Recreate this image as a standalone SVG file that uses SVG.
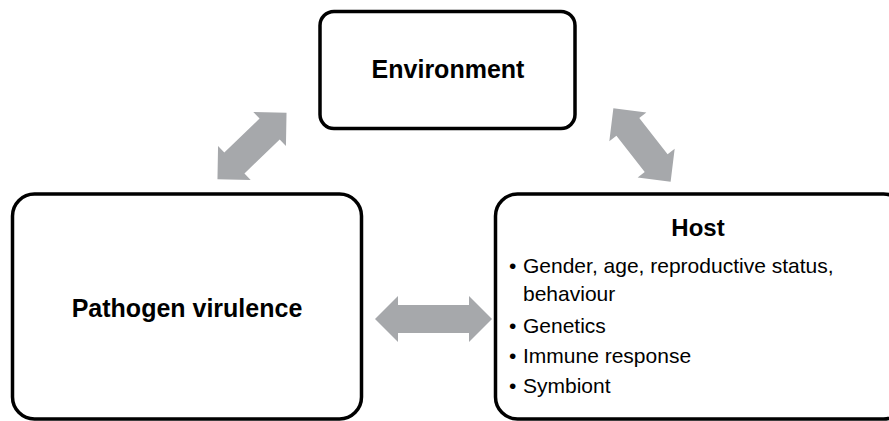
<svg xmlns="http://www.w3.org/2000/svg" width="889" height="421" viewBox="0 0 889 421">
  <style>
    .box { fill: #ffffff; stroke: #000000; stroke-width: 3.5; }
    .arrow { fill: #A6A8AB; stroke: none; }
    .title { font-family: "Liberation Sans", Arial, sans-serif; font-weight: bold; font-size: 25px; fill: #000000; text-anchor: middle; }
    .item { font-family: "Liberation Sans", Arial, sans-serif; font-size: 21px; fill: #000000; }
  </style>
  <defs>
    <polygon id="dbl96" points="-48,0 -24.5,-23.5 -24.5,-14.5 24.5,-14.5 24.5,-23.5 48,0 24.5,23.5 24.5,14.5 -24.5,14.5 -24.5,23.5"/>
    <polygon id="dbl93" points="-46.5,0 -23,-23.5 -23,-14.5 23,-14.5 23,-23.5 46.5,0 23,23.5 23,14.5 -23,14.5 -23,23.5"/>
  </defs>
  <g id="connectors">
    <use href="#dbl96" class="arrow" transform="translate(252,146) rotate(-44)"/>
    <use href="#dbl93" class="arrow" transform="translate(642,145) rotate(52)"/>
    <polygon class="arrow" points="375,319 398,296 398,305 469,305 469,296 492,319 469,342 469,333 398,333 398,342"/>
  </g>
  <g id="environment">
    <rect class="box" x="320" y="11.5" width="255" height="117" rx="14" ry="14"/>
    <text class="title" x="448" y="78">Environment</text>
  </g>
  <g id="pathogen">
    <rect class="box" x="12.5" y="194" width="349" height="225" rx="22" ry="22"/>
    <text class="title" x="187" y="317">Pathogen virulence</text>
  </g>
  <g id="host">
    <rect class="box" x="495.5" y="194" width="410" height="225" rx="22" ry="22"/>
    <text class="title" x="698" y="236" style="font-size:24px">Host</text>
    <text class="item" y="273"><tspan x="509">•</tspan><tspan x="523">Gender, age, reproductive status,</tspan></text>
    <text class="item" x="523" y="301">behaviour</text>
    <text class="item" y="333"><tspan x="509">•</tspan><tspan x="523">Genetics</tspan></text>
    <text class="item" y="363"><tspan x="509">•</tspan><tspan x="523">Immune response</tspan></text>
    <text class="item" y="393"><tspan x="509">•</tspan><tspan x="523">Symbiont</tspan></text>
  </g>
</svg>
